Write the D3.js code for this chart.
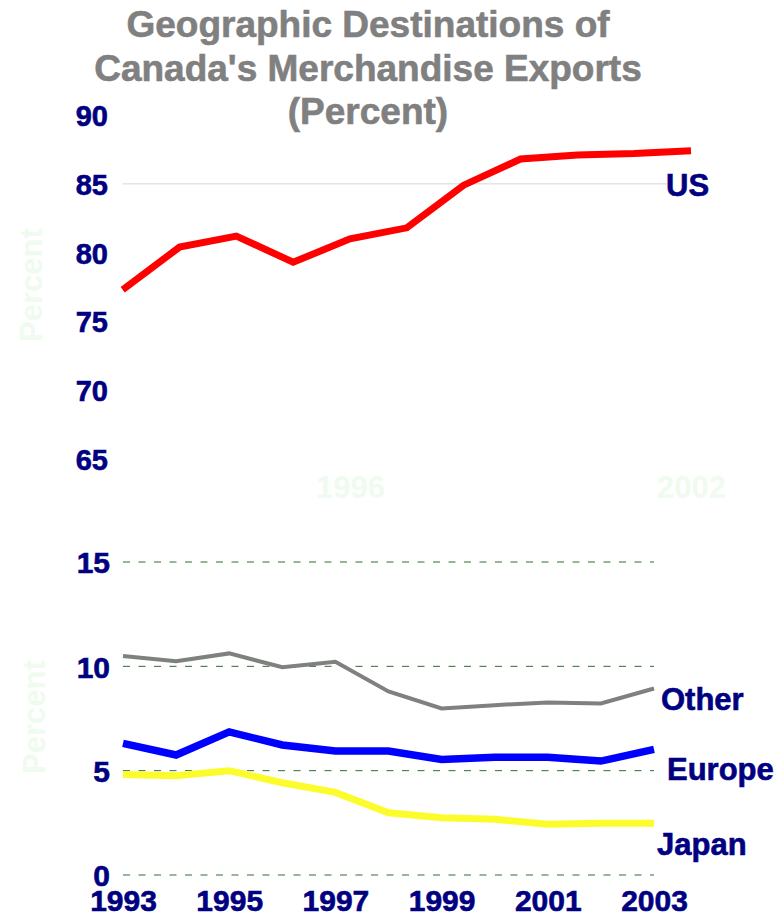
<!DOCTYPE html>
<html>
<head>
<meta charset="utf-8">
<script src="https://cdn.jsdelivr.net/npm/d3@7"></script>
<style>
  html, body { margin: 0; padding: 0; background: #ffffff; }
  svg { display: block; }
  text { font-family: "Liberation Sans", Arial, Helvetica, sans-serif; font-weight: bold; }
</style>
</head>
<body>
<svg id="chart" width="784" height="918"></svg>
<script>
// ---------- data ----------
const titleLines = ["Geographic Destinations of", "Canada's Merchandise Exports", "(Percent)"];

const topYears = [1992, 1993, 1994, 1995, 1996, 1997, 1998, 1999, 2000, 2001, 2002];
const usValues = [77.3, 80.4, 81.2, 79.3, 81.0, 81.8, 84.9, 86.8, 87.1, 87.2, 87.4];
const topYTicks = [65, 70, 75, 80, 85, 90];
const topXTicks = [1996, 2002];

const years = [1993, 1994, 1995, 1996, 1997, 1998, 1999, 2000, 2001, 2002, 2003];
const otherValues  = [10.49, 10.25, 10.62, 9.96, 10.22, 8.80, 7.98, 8.14, 8.27, 8.22, 8.94];
const europeValues = [6.31, 5.75, 6.86, 6.23, 5.94, 5.94, 5.54, 5.64, 5.64, 5.46, 6.02];
const japanValues  = [4.82, 4.76, 5.00, 4.42, 3.96, 2.98, 2.74, 2.67, 2.43, 2.48, 2.48];
const bottomYTicks = [0, 5, 10, 15];
const bottomXTicks = [1993, 1995, 1997, 1999, 2001, 2003];

const seriesNames = ["US", "Other", "Europe", "Japan"];
const axisTitle = "Percent";

// ---------- layout ----------
const svg = d3.select("#chart");
const navy = "#000080";
const faint = "#effbef";

function heavy(sel, color) {
  sel.attr("fill", color).attr("stroke", color).attr("stroke-width", 0.6)
     .style("font-family", "'Liberation Sans', Arial, sans-serif").style("font-weight", "bold");
}

// title
svg.append("g").selectAll("text").data(titleLines).join("text")
  .attr("x", 368).attr("y", (d, i) => 37 + i * 43.5)
  .attr("text-anchor", "middle")
  .attr("font-size", 37)
  .text(d => d)
  .call(heavy, "#808080");

// ---------- top panel ----------
const xTop = d3.scaleLinear().domain([1992, 2002]).range([122.7, 691]);
const yTop = d3.scaleLinear().domain([65, 90]).range([459, 115]);

// faint axis labels
svg.append("text")
  .attr("transform", "translate(42,285) rotate(-90)")
  .attr("text-anchor", "middle").attr("fill", faint).attr("font-size", 31)
  .text(axisTitle);

const gTopX = svg.append("g").attr("transform", "translate(0,498)")
  .call(d3.axisBottom(xTop).tickValues(topXTicks).tickFormat(d3.format("d")).tickSize(0).tickPadding(0));
gTopX.select(".domain").remove();
gTopX.selectAll("text").attr("fill", faint).attr("font-size", 31).attr("dy", 0).attr("y", 0)
  .style("font-family", "'Liberation Sans', Arial, sans-serif").style("font-weight", "bold");

// gridline at 85
svg.append("line")
  .attr("x1", xTop(1992)).attr("x2", 667)
  .attr("y1", yTop(85)).attr("y2", yTop(85))
  .attr("stroke", "#e4e4e4").attr("stroke-width", 1.5);

const gTopY = svg.append("g").attr("transform", "translate(108,0)")
  .call(d3.axisLeft(yTop).tickValues(topYTicks).tickSize(0).tickPadding(0));
gTopY.select(".domain").remove();
gTopY.selectAll("text").attr("font-size", 29).attr("dy", "0.36em").call(heavy, navy);

const lineTop = d3.line().x((d, i) => xTop(topYears[i])).y(d => yTop(d));
svg.append("path").datum(usValues)
  .attr("d", lineTop).attr("fill", "none")
  .attr("stroke", "#ff0000").attr("stroke-width", 7)
  .attr("stroke-linejoin", "miter").attr("stroke-linecap", "butt");

svg.append("text").attr("x", 666).attr("y", 196)
  .attr("font-size", 31).text(seriesNames[0]).call(heavy, navy);

// ---------- bottom panel ----------
const x = d3.scaleLinear().domain([1993, 2003]).range([123, 654]);
const y = d3.scaleLinear().domain([0, 15]).range([875, 562]);

svg.append("text")
  .attr("transform", "translate(45,717) rotate(-90)")
  .attr("text-anchor", "middle").attr("fill", faint).attr("font-size", 31)
  .text(axisTitle);

// dashed grid
svg.append("g").selectAll("line").data(bottomYTicks).join("line")
  .attr("x1", x(1993)).attr("x2", x(2003))
  .attr("y1", d => y(d)).attr("y2", d => y(d))
  .attr("stroke", "#2e6e2e").attr("stroke-width", 1)
  .attr("stroke-dasharray", "7,8.5");

const gY = svg.append("g").attr("transform", "translate(110,0)")
  .call(d3.axisLeft(y).tickValues(bottomYTicks).tickSize(0).tickPadding(0));
gY.select(".domain").remove();
gY.selectAll("text").attr("font-size", 30).attr("dy", "0.36em").call(heavy, navy);

const gX = svg.append("g").attr("transform", "translate(0,911)")
  .call(d3.axisBottom(x).tickValues(bottomXTicks).tickFormat(d3.format("d")).tickSize(0).tickPadding(0));
gX.select(".domain").remove();
gX.selectAll("text").attr("font-size", 30).attr("dy", 0).attr("y", 0).call(heavy, navy);

const line = d3.line().x((d, i) => x(years[i])).y(d => y(d));
const bottomSeries = [
  { values: otherValues,  color: "#808080", width: 4 },
  { values: europeValues, color: "#0000ff", width: 7.5 },
  { values: japanValues,  color: "#fcfc2c", width: 7 }
];
svg.append("g").selectAll("path").data(bottomSeries).join("path")
  .attr("d", d => line(d.values)).attr("fill", "none")
  .attr("stroke", d => d.color).attr("stroke-width", d => d.width)
  .attr("stroke-linejoin", "miter").attr("stroke-linecap", "butt");

const labelPos = [[661, 710], [667, 780], [657, 855]];
svg.append("g").selectAll("text").data(seriesNames.slice(1)).join("text")
  .attr("x", (d, i) => labelPos[i][0]).attr("y", (d, i) => labelPos[i][1])
  .attr("font-size", 31).text(d => d).call(heavy, navy);
</script>
</body>
</html>
